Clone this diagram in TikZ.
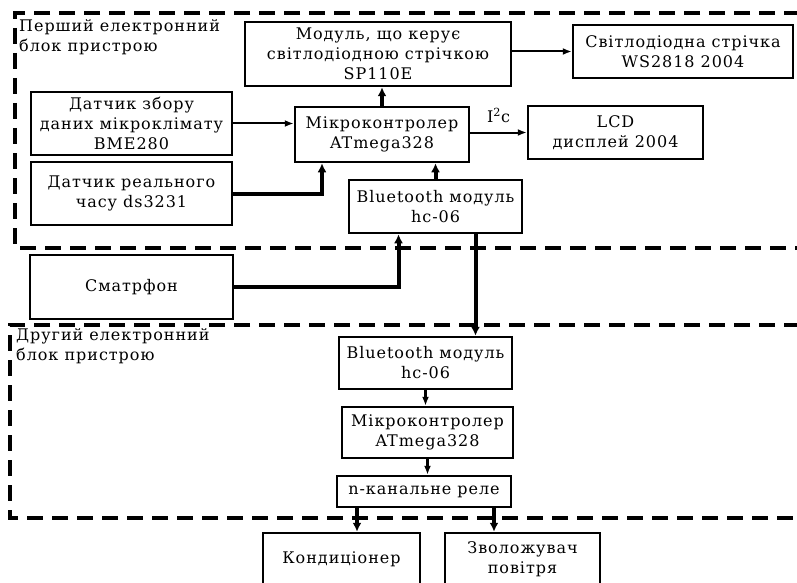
\documentclass[tikz,border=0pt]{standalone}
\usepackage{fontspec}
\setmainfont[LetterSpace=6]{DejaVu Serif}
\usetikzlibrary{arrows.meta}

\begin{document}
\begin{tikzpicture}[x=1pt,y=-1pt,
        block/.style={draw,line width=2.5pt,align=center,inner sep=2pt,font=\fontsize{16}{20}\selectfont},
        caption/.style={anchor=north west,align=left,inner sep=0pt,font=\fontsize{16}{20}\selectfont},
        frame/.style={line width=3.5pt,dash pattern=on 16pt off 9pt},
        thinarrow/.style={-{Latex[length=9pt,width=7pt]},line width=2pt},
        fatarrow/.style={-{Latex[length=9pt,width=9pt]},line width=4pt}]
    \useasboundingbox (0,0) rectangle (797,583);
    \clip (0,0) rectangle (797,583);

    % dashed frames of the two blocks
    \draw[frame] (800,13) -- (15,13) -- (15,248) -- (800,248);
    \draw[frame] (800,325) -- (10,325) -- (10,518) -- (800,518);
    \node[caption] (first) at (19,19) {Перший електронний\\блок пристрою};
    \node[caption] (second) at (16,328) {Другий електронний\\блок пристрою};

    \begin{scope}[every node/.style={block}]
        \node[minimum width=266,minimum height=64] (modul) at (378,54) {Модуль, що керує\\світлодіодною стрічкою\\SP110E};
        \node[minimum width=220,minimum height=53] (strip) at (683,51.5) {Світлодіодна стрічка\\WS2818 2004};
        \node[minimum width=201,minimum height=63] (bme) at (131.5,123.5) {Датчик збору\\даних мікроклімату\\BME280};
        \node[minimum width=201,minimum height=63] (rtc) at (131.5,193.5) {Датчик реального\\часу ds3231};
        \node[minimum width=174,minimum height=55] (mcu) at (382,134.5) {Мікроконтролер\\ATmega328};
        \node[minimum width=175,minimum height=53] (lcd) at (615.5,132.5) {LCD\\дисплей 2004};
        \node[minimum width=173,minimum height=53] (bt) at (435.5,206.5) {Bluetooth модуль\\hc-06};
        \node[minimum width=203,minimum height=64] (phone) at (131.5,287) {Сматрфон};
        \node[minimum width=173,minimum height=52] (btb) at (425.5,363) {Bluetooth модуль\\hc-06};
        \node[minimum width=171,minimum height=51] (mcub) at (427.5,432.5) {Мікроконтролер\\ATmega328};
        \node[minimum width=174,minimum height=31] (relay) at (424,491.5) {n-канальне реле};
        \node[minimum width=157,minimum height=52] (cond) at (341.5,559) {Кондиціонер};
        \node[minimum width=155,minimum height=52] (hum) at (522.5,559) {Зволожувач\\повітря};
    \end{scope}

    \begin{scope}
        \draw[thinarrow] (bme.east) -- (bme.east -| mcu.west);
        \draw[fatarrow] (rtc.east) -| ([xshift=-60pt]mcu.south);
        \draw[fatarrow] (mcu.north) -- (mcu.north |- modul.south);
        \draw[thinarrow] (modul.east |- strip.west) -- (strip.west);
        \draw[thinarrow] (mcu.east |- lcd.west) -- (lcd.west)
            node[midway,above=5pt,font=\fontsize{16}{20}\selectfont] {I\textsuperscript{2}c};
        \draw[fatarrow] (bt.north) -- (bt.north |- mcu.south);
        \draw[fatarrow] (phone.east) -| ([xshift=-37pt]bt.south);
        \draw[fatarrow] ([xshift=40pt]bt.south) -- ([xshift=40pt]bt.south |- btb.north);
        \draw[thinarrow,line width=2.5pt] (btb.south) -- (btb.south |- mcub.north);
        \draw[thinarrow,line width=2.5pt] (mcub.south) -- (mcub.south |- relay.north);
        \draw[fatarrow] ([xshift=-67pt]relay.south) -- ([xshift=-67pt]relay.south |- cond.north);
        \draw[fatarrow] ([xshift=70pt]relay.south) -- ([xshift=70pt]relay.south |- hum.north);
    \end{scope}
\end{tikzpicture}
\end{document}
